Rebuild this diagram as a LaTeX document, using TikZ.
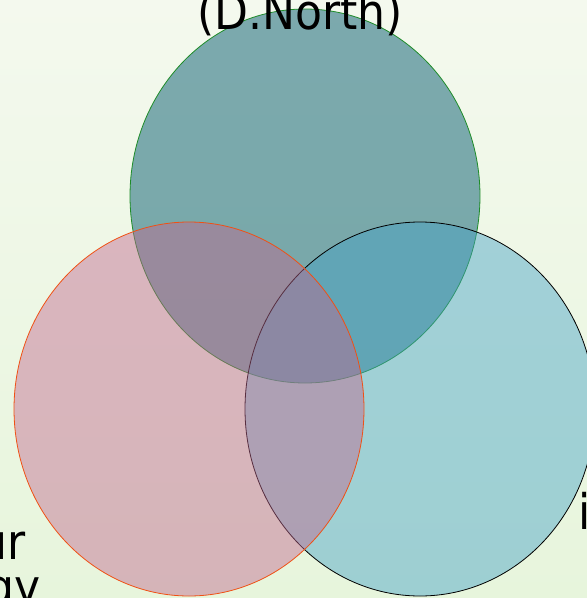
\documentclass[tikz,border=0pt]{standalone}
\usepackage{fontspec}
\setmainfont{DejaVu Sans Condensed}
\usetikzlibrary{shapes.geometric}
\definecolor{bgtop}{RGB}{244,249,238}
\definecolor{bgbot}{RGB}{231,245,220}
\definecolor{northfill}{RGB}{5,91,111}
\definecolor{northline}{RGB}{30,140,40}
\definecolor{westfill}{RGB}{193,102,142}
\definecolor{westline}{RGB}{240,80,20}
\definecolor{eastfill}{RGB}{69,162,198}
\tikzstyle{setbase} = [ellipse, minimum width=350pt, minimum height=374pt, inner sep=0pt, line width=0.8pt]
\tikzstyle{northset} = [setbase, draw=northline, fill=northfill, fill opacity=0.5]
\tikzstyle{eastset} = [setbase, draw=black, fill=eastfill, fill opacity=0.45]
\tikzstyle{westset} = [setbase, draw=westline, fill=westfill, fill opacity=0.45]
\tikzstyle{label} = [inner sep=0pt, font=\fontsize{49}{56}\selectfont]

\begin{document}
\begin{tikzpicture}[x=1pt, y=-1pt]
\useasboundingbox (0,0) rectangle (587,598);
\clip (0,0) rectangle (587,598);
\shade[top color=bgtop, bottom color=bgbot] (0,0) rectangle (587,598);
\node (north) [northset] at (305,196) {};
\node (east) [eastset] at (420,409) {};
\node (west) [westset] at (189,409) {};
\node (northtext) [label, anchor=base] at (300,29) {(D.North)};
\node (westtext) [label, anchor=base east] at (26,559) {ur};
\node (westtext2) [label, anchor=base east] at (41,604) {gy};
\node (easttext) [label, anchor=base west] at (578,529) {i};
\end{tikzpicture}
\end{document}
